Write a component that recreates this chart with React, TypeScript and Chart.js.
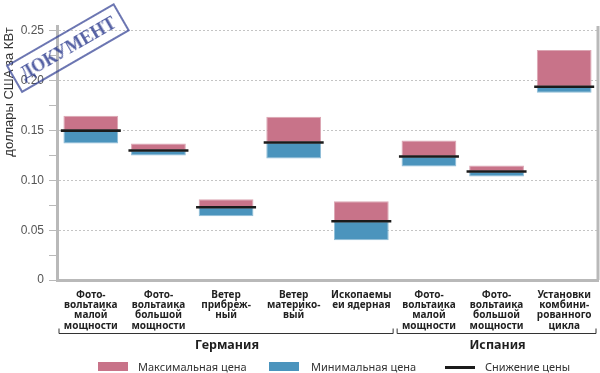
import React, { useEffect, useRef } from "react";
import { Chart, registerables } from "chart.js";

Chart.register(...registerables);

const categories: string[][] = [
  ["Фото-", "вольтаика", "малой", "мощности"],
  ["Фото-", "вольтаика", "большой", "мощности"],
  ["Ветер", "прибреж-", "ный"],
  ["Ветер", "материко-", "вый"],
  ["Ископаемы", "еи ядерная"],
  ["Фото-", "вольтаика", "малой", "мощности"],
  ["Фото-", "вольтаика", "большой", "мощности"],
  ["Установки", "комбини-", "рованного", "цикла"],
];
const maxPrice = [0.165, 0.137, 0.081, 0.164, 0.079, 0.14, 0.115, 0.231];
const minPrice = [0.137, 0.125, 0.064, 0.122, 0.04, 0.114, 0.104, 0.188];
const reducedPrice = [0.15, 0.13, 0.073, 0.138, 0.059, 0.124, 0.109, 0.194];
const groups = [
  { label: "Германия", from: 0, to: 4 },
  { label: "Испания", from: 5, to: 7 },
];
const seriesNames = ["Максимальная цена", "Минимальная цена", "Снижение цены"];
const yTitle = "доллары США за КВт";
const stampText = "ДОКУМЕНТ";

const PINK = "#c87389";
const PINK_EDGE = "#dba6b3";
const BLUE = "#4b94bd";
const BLUE_EDGE = "#8fbdd7";
const BLACK = "#1b1b1b";
const AXIS = "#b9b9b9";

const extrasPlugin = {
  id: "extras",
  afterDraw(chart: any) {
    const ctx = chart.ctx;
    const x = chart.scales.x;
    const area = chart.chartArea;
    const half = (x.getPixelForValue(1) - x.getPixelForValue(0)) / 2;
    ctx.save();
    // right frame line
    ctx.strokeStyle = AXIS;
    ctx.lineWidth = 3;
    ctx.beginPath();
    ctx.moveTo(area.right, area.top);
    ctx.lineTo(area.right, area.bottom);
    ctx.stroke();
    groups.forEach((g) => {
      const l = x.getPixelForValue(g.from) - half + 2;
      const r = x.getPixelForValue(g.to) + half - 2;
      const by = area.bottom + 53.5;
      ctx.strokeStyle = "#333";
      ctx.lineWidth = 1;
      ctx.beginPath();
      ctx.moveTo(l, by - 5);
      ctx.lineTo(l, by);
      ctx.lineTo(r, by);
      ctx.lineTo(r, by - 5);
      ctx.stroke();
      ctx.fillStyle = "#1e1e1e";
      ctx.font = 'bold 12.5px "Noto Sans"';
      ctx.textAlign = "center";
      ctx.textBaseline = "alphabetic";
      ctx.fillText(g.label, (l + r) / 2 + 1, area.bottom + 69);
    });
    ctx.translate(9, 92);
    ctx.rotate(-Math.PI / 2);
    ctx.font = '13px "Liberation Sans"';
    ctx.fillStyle = "#333";
    ctx.textAlign = "center";
    ctx.textBaseline = "middle";
    ctx.fillText(yTitle, 0, 0);
    ctx.restore();
  },
};

function App() {
  const ref = useRef<HTMLCanvasElement | null>(null);
  useEffect(() => {
    if (!ref.current) return;
    const chart = new Chart(ref.current, {
      type: "bar",
      data: {
        labels: categories,
        datasets: [
          {
            type: "line",
            label: seriesNames[2],
            data: reducedPrice,
            showLine: false,
            pointStyle: "line",
            pointRadius: 30,
            pointHoverRadius: 30,
            borderColor: BLACK,
            backgroundColor: BLACK,
            borderWidth: 2.6,
            clip: false,
            order: 0,
          } as any,
          {
            label: seriesNames[0],
            data: maxPrice.map((v, i) => [reducedPrice[i], v]),
            backgroundColor: PINK,
            borderColor: PINK_EDGE,
            borderWidth: 1,
            borderSkipped: false,
            grouped: false,
            barPercentage: 0.81,
            categoryPercentage: 1,
            order: 1,
          } as any,
          {
            label: seriesNames[1],
            data: minPrice.map((v, i) => [v, reducedPrice[i]]),
            backgroundColor: BLUE,
            borderColor: BLUE_EDGE,
            borderWidth: 1,
            borderSkipped: false,
            grouped: false,
            barPercentage: 0.81,
            categoryPercentage: 1,
            order: 1,
          } as any,
        ],
      },
      options: {
        animation: false,
        responsive: false,
        layout: { autoPadding: false, padding: { top: 26, right: 2, left: 0, bottom: 0 } },
        plugins: { legend: { display: false }, tooltip: { enabled: false } },
        scales: {
          x: {
            grid: { display: false },
            border: { display: true, color: AXIS, width: 3 },
            ticks: {
              autoSkip: false,
              maxRotation: 0,
              minRotation: 0,
              padding: 2,
              color: "#222",
              font: { family: "Noto Sans", size: 10, weight: "bold", lineHeight: 1.02 },
            },
            afterFit: (s: any) => {
              s.height = 93;
              s.paddingLeft = 0;
              s.paddingRight = 0;
            },
          },
          y: {
            min: 0,
            max: 0.255,
            border: { display: true, color: AXIS, width: 3, dash: [2, 2] },
            grid: {
              color: (c: any) =>
                c.tick && Math.abs(Math.round(c.tick.value / 0.05) * 0.05 - c.tick.value) < 1e-6 && c.tick.value > 0
                  ? "#c4c4c4"
                  : "rgba(0,0,0,0)",
              tickColor: AXIS,
              tickLength: 8,
              lineWidth: 1,
            },
            ticks: {
              stepSize: 0.025,
              includeBounds: false,
              padding: 5,
              color: "#555",
              font: { family: "Liberation Sans", size: 12 },
              callback: (v: any) => {
                const n = Number(v);
                if (Math.abs(Math.round(n / 0.05) * 0.05 - n) > 1e-6) return "";
                return n === 0 ? "0" : n.toFixed(2);
              },
            },
            afterFit: (s: any) => {
              s.width = 57;
            },
          },
        },
      } as any,
      plugins: [extrasPlugin],
    });
    return () => chart.destroy();
  }, []);

  const legendText: React.CSSProperties = {
    position: "absolute",
    top: 359,
    font: '11px "Noto Sans"',
    color: "#333",
    whiteSpace: "nowrap",
  };
  return (
    <div style={{ position: "fixed", left: 0, top: 0, width: 600, height: 373, background: "#fff" }}>
      <canvas ref={ref} width={600} height={373} style={{ display: "block" }} />
      <div style={{ position: "absolute", left: 98, top: 362, width: 30, height: 9, background: PINK }} />
      <div style={{ ...legendText, left: 138 }}>{seriesNames[0]}</div>
      <div style={{ position: "absolute", left: 269, top: 362, width: 30, height: 9, background: BLUE }} />
      <div style={{ ...legendText, left: 311 }}>{seriesNames[1]}</div>
      <div style={{ position: "absolute", left: 445, top: 366, width: 30, height: 3, background: BLACK }} />
      <div style={{ ...legendText, left: 485 }}>{seriesNames[2]}</div>
      <div
        style={{
          position: "absolute",
          left: 68,
          top: 48,
          transform: "translate(-50%, -50%) rotate(-30deg)",
          border: "2px solid rgba(45,60,145,0.7)",
          padding: "2px 7px",
          color: "rgba(40,55,140,0.8)",
          font: 'bold 18px "Liberation Serif"',
          whiteSpace: "nowrap",
          lineHeight: "24px",
        }}
      >
        {stampText}
      </div>
    </div>
  );
}

export default App;
